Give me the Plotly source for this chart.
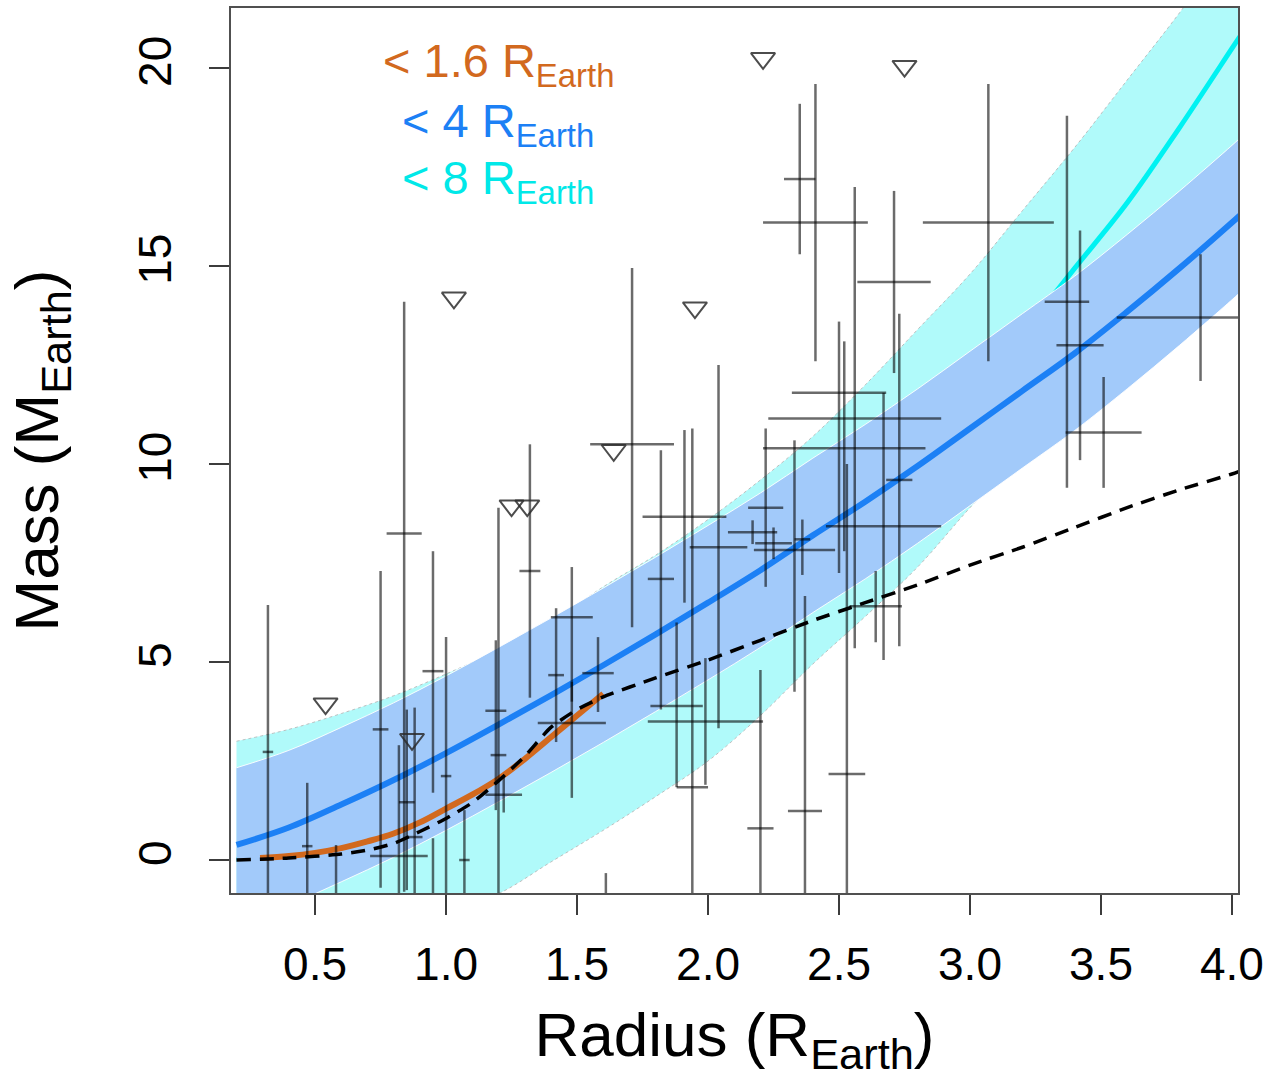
import plotly.graph_objects as go

# ---------------- data ----------------
grid_r = [0.2, 0.4, 0.6, 0.8, 1.0, 1.2, 1.4, 1.6, 1.8, 2.0,
          2.2, 2.4, 2.6, 2.8, 3.0, 3.2, 3.4, 3.6, 3.8, 4.0, 4.03]

# < 4 R_Earth fit (blue) and its band
blue_mean = [0.38, 0.82, 1.40, 2.02, 2.70, 3.42, 4.16, 4.92, 5.70, 6.50,
             7.32, 8.20, 9.05, 9.95, 10.90, 11.85, 12.80, 13.85, 14.95, 16.10, 16.28]
blue_upper = [2.33, 2.77, 3.35, 3.97, 4.65, 5.37, 6.11, 6.87, 7.65, 8.45,
              9.27, 10.15, 11.00, 11.90, 12.85, 13.80, 14.75, 15.80, 16.90, 18.05, 18.23]
blue_lower = [-1.57, -1.13, -0.55, 0.07, 0.75, 1.47, 2.21, 2.97, 3.75, 4.55,
              5.37, 6.25, 7.10, 8.00, 8.95, 9.90, 10.85, 11.90, 13.00, 14.15, 14.33]

# < 8 R_Earth fit (cyan) and its band
cyan_mean = [0.0, 0.2, 0.5, 0.9, 1.5, 2.2, 2.95, 3.8, 4.7, 5.6,
             6.6, 7.7, 8.9, 10.3, 11.8, 13.3, 14.95, 16.6, 18.5, 20.5, 20.8]
cyan_upper = [3.0, 3.3, 3.7, 4.15, 4.7, 5.3, 6.0, 6.9, 7.7, 8.6,
              9.6, 10.7, 12.0, 13.4, 14.8, 16.4, 18.0, 19.7, 21.4, 23.2, 23.5]
cyan_lower = [-3.0, -2.6, -2.2, -1.75, -1.3, -0.85, -0.05, 0.75, 1.6, 2.5,
              3.65, 4.95, 6.15, 7.4, 8.9, 10.3, 11.8, 13.4, 15.1, 16.9, 17.2]

# < 1.6 R_Earth fit (orange)
orange_r = [0.29, 0.4, 0.5, 0.6, 0.7, 0.8, 0.9, 1.0, 1.1, 1.2, 1.3, 1.4, 1.5, 1.6]
orange_m = [0.05, 0.1, 0.18, 0.3, 0.47, 0.67, 0.95, 1.3, 1.65, 2.05, 2.55, 3.1, 3.65, 4.2]

# dashed composition curve
rocky_r = [0.2, 0.4, 0.6, 0.7, 0.8, 0.9, 1.0, 1.1, 1.2, 1.3, 1.4, 1.5, 1.6,
           1.8, 2.0, 2.2, 2.4, 2.6, 2.8, 3.0, 3.2, 3.4, 3.6, 3.8, 4.0, 4.03]
rocky_m = [0.0, 0.05, 0.15, 0.25, 0.42, 0.72, 1.05, 1.45, 2.0, 2.62, 3.35, 3.8, 4.12,
           4.6, 5.05, 5.55, 6.05, 6.5, 6.95, 7.45, 7.9, 8.4, 8.9, 9.35, 9.75, 9.82]

# planets with measured masses
planet_r = [0.32, 0.47, 0.58, 0.75, 0.82, 0.84, 0.85, 0.88, 0.95, 0.95,
            1.00, 1.07, 1.19, 1.20, 1.22, 1.32, 1.42, 1.48, 1.48, 1.58,
            1.61, 1.71, 1.82, 1.91, 1.94, 1.88, 1.99, 2.04, 2.20, 2.37,
            2.53, 2.41, 2.35, 2.50, 2.56, 2.52, 2.73, 2.71, 2.67, 2.64,
            2.22, 2.33, 2.17, 2.25, 2.36, 3.07, 3.37, 3.42, 3.51, 3.88]
planet_m = [2.73, 0.35, -1.3, 3.3, 0.1, 8.25, 1.46, 0.58, 4.77, -1.3,
            2.12, 0.0, 3.77, 2.65, 1.65, 7.3, 4.67, 6.13, 3.46, 4.72,
            -1.5, 10.5, 7.1, 8.67, 1.84, 3.89, 3.5, 7.9, 0.8, 1.24,
            2.17, 16.1, 17.2, 11.8, 11.15, 10.4, 9.6, 14.6, 8.43, 6.41,
            8.9, 7.83, 8.28, 8.0, 8.1, 16.1, 14.1, 13.0, 10.8, 13.7]
planet_r_err = [0.02, 0.02, 0.02, 0.03, 0.11, 0.067, 0.03, 0.03, 0.04, 0.02,
                0.02, 0.02, 0.04, 0.03, 0.07, 0.04, 0.03, 0.08, 0.13, 0.06,
                0.02, 0.16, 0.05, 0.16, 0.06, 0.10, 0.22, 0.11, 0.05, 0.065,
                0.07, 0.20, 0.06, 0.18, 0.33, 0.31, 0.05, 0.14, 0.22, 0.10,
                0.067, 0.155, 0.094, 0.07, 0.03, 0.25, 0.085, 0.09, 0.145, 0.32]
planet_m_err_plus = [3.71, 1.6, 1.68, 4.0, 2.8, 5.85, 2.34, 3.27, 3.03, 1.85,
                     3.51, 1.26, 1.78, 6.25, 0.45, 3.2, 1.69, 1.27, 1.04, 0.91,
                     1.17, 4.45, 3.25, 2.19, 9.06, 2.11, 1.6, 4.6, 4.0, 5.43,
                     7.83, 3.5, 1.9, 1.8, 5.85, 2.7, 4.2, 2.3, 3.37, 0.89,
                     2.0, 2.77, 0.3, 0.4, 0.5, 3.5, 4.7, 2.9, 1.4, 1.6]
planet_m_err_minus = [3.73, 1.35, 0.5, 4.0, 1.1, 9.05, 2.22, 1.58, 3.07, 0.5,
                      3.1, 1.0, 2.51, 3.65, 0.45, 3.2, 1.69, 2.13, 1.89, 0.98,
                      0.5, 4.62, 3.3, 2.17, 2.84, 2.05, 1.6, 4.57, 1.8, 2.24,
                      3.17, 3.5, 1.9, 4.55, 5.8, 2.6, 4.2, 2.3, 3.38, 0.91,
                      2.0, 3.58, 0.3, 0.4, 0.9, 3.5, 4.7, 2.9, 1.4, 1.6]

# planets with mass upper limits
limit_r = [0.54, 0.87, 1.03, 1.25, 1.31, 1.64, 1.95, 2.21, 2.75]
limit_m = [3.95, 3.05, 14.2, 8.95, 8.95, 10.35, 13.95, 20.25, 20.05]

x_ticks = [0.5, 1.0, 1.5, 2.0, 2.5, 3.0, 3.5, 4.0]
x_tick_labels = ["0.5", "1.0", "1.5", "2.0", "2.5", "3.0", "3.5", "4.0"]
y_ticks = [0, 5, 10, 15, 20]
y_tick_labels = ["0", "5", "10", "15", "20"]

legend_labels = ["< 1.6 R<sub>Earth</sub>", "< 4 R<sub>Earth</sub>", "< 8 R<sub>Earth</sub>"]
legend_y = [20.1, 18.6, 17.15]

# ---------------- styling ----------------
FONT = "Liberation Sans, Arial, Helvetica, sans-serif"
ORANGE = "rgb(210,105,30)"
BLUE = "rgb(28,128,245)"
CYAN = "rgb(0,242,242)"
CYAN_TEXT = "rgb(0,232,232)"
BLUE_FILL = "rgb(162,202,250)"
CYAN_FILL = "rgb(176,250,250)"
legend_colors = [ORANGE, BLUE, CYAN_TEXT]

fig = go.Figure()

# cyan band (lower edge, then upper edge filled down to it)
fig.add_trace(go.Scatter(
    x=grid_r, y=cyan_lower, mode="lines",
    line=dict(color="rgba(185,185,185,0.9)", width=1, dash="dot", shape="spline"),
    hoverinfo="skip", showlegend=False))
fig.add_trace(go.Scatter(
    x=grid_r, y=cyan_upper, mode="lines", fill="tonexty", fillcolor=CYAN_FILL,
    line=dict(color="rgba(185,185,185,0.9)", width=1, dash="dot", shape="spline"),
    hoverinfo="skip", showlegend=False))
# cyan mean (hidden under blue band except at the top right)
fig.add_trace(go.Scatter(
    x=grid_r, y=cyan_mean, mode="lines",
    line=dict(color=CYAN, width=5, shape="spline"),
    hoverinfo="skip", showlegend=False))
# blue band
fig.add_trace(go.Scatter(
    x=grid_r, y=blue_lower, mode="lines",
    line=dict(color="rgba(255,255,255,0.9)", width=1, shape="spline"),
    hoverinfo="skip", showlegend=False))
fig.add_trace(go.Scatter(
    x=grid_r, y=blue_upper, mode="lines", fill="tonexty", fillcolor=BLUE_FILL,
    line=dict(color="rgba(255,255,255,0.9)", width=1, shape="spline"),
    hoverinfo="skip", showlegend=False))
# blue mean
fig.add_trace(go.Scatter(
    x=grid_r, y=blue_mean, mode="lines",
    line=dict(color=BLUE, width=6, shape="spline"),
    hoverinfo="skip", showlegend=False))
# orange fit
fig.add_trace(go.Scatter(
    x=orange_r, y=orange_m, mode="lines",
    line=dict(color=ORANGE, width=6, shape="spline"),
    hoverinfo="skip", showlegend=False))
# dashed composition curve
fig.add_trace(go.Scatter(
    x=rocky_r, y=rocky_m, mode="lines",
    line=dict(color="black", width=3.5, dash="14px,9px", shape="spline", smoothing=0.6),
    hoverinfo="skip", showlegend=False))
# error-bar crosses
fig.add_trace(go.Scatter(
    x=planet_r, y=planet_m, mode="markers",
    marker=dict(size=1, color="rgba(0,0,0,0)"),
    error_x=dict(type="data", array=planet_r_err, width=0,
                 thickness=2.5, color="rgba(0,0,0,0.58)"),
    error_y=dict(type="data", symmetric=False, array=planet_m_err_plus,
                 arrayminus=planet_m_err_minus, width=0,
                 thickness=2.5, color="rgba(0,0,0,0.58)"),
    hoverinfo="skip", showlegend=False))
# upper limits
fig.add_trace(go.Scatter(
    x=limit_r, y=limit_m, mode="markers",
    marker=dict(symbol="triangle-down-open", size=21, color="rgba(45,45,45,0.85)",
                line=dict(color="rgba(45,45,45,0.85)", width=2)),
    hoverinfo="skip", showlegend=False))

for txt, yy, col in zip(legend_labels, legend_y, legend_colors):
    fig.add_annotation(x=1.2, y=yy, xref="x", yref="y", text=txt, showarrow=False,
                       xanchor="center", yanchor="middle",
                       font=dict(family=FONT, size=47, color=col))

axis_common = dict(
    showgrid=False, zeroline=False, showline=True, mirror=True,
    linecolor="rgb(80,80,80)", linewidth=2,
    ticks="outside", ticklen=20, tickwidth=2, tickcolor="rgb(60,60,60)",
    tickfont=dict(family=FONT, size=46, color="black"),
)

fig.update_layout(
    width=1272, height=1078,
    margin=dict(l=231, r=34, t=8, b=185, autoexpand=False),
    paper_bgcolor="white", plot_bgcolor="white",
    xaxis=dict(range=[0.179, 4.023], tickvals=x_ticks, ticktext=x_tick_labels,
               ticklabelstandoff=10,
               title=dict(text="Radius (R<sub>Earth</sub>)", standoff=26,
                          font=dict(family=FONT, size=62, color="black")),
               **axis_common),
    yaxis=dict(range=[-0.833, 21.52], tickvals=y_ticks, ticktext=y_tick_labels,
               tickangle=-90, ticklabelstandoff=20,
               title=dict(text="Mass (M<sub>Earth</sub>)", standoff=50,
                          font=dict(family=FONT, size=62, color="black")),
               **axis_common),
)

fig.write_html("out.html")
